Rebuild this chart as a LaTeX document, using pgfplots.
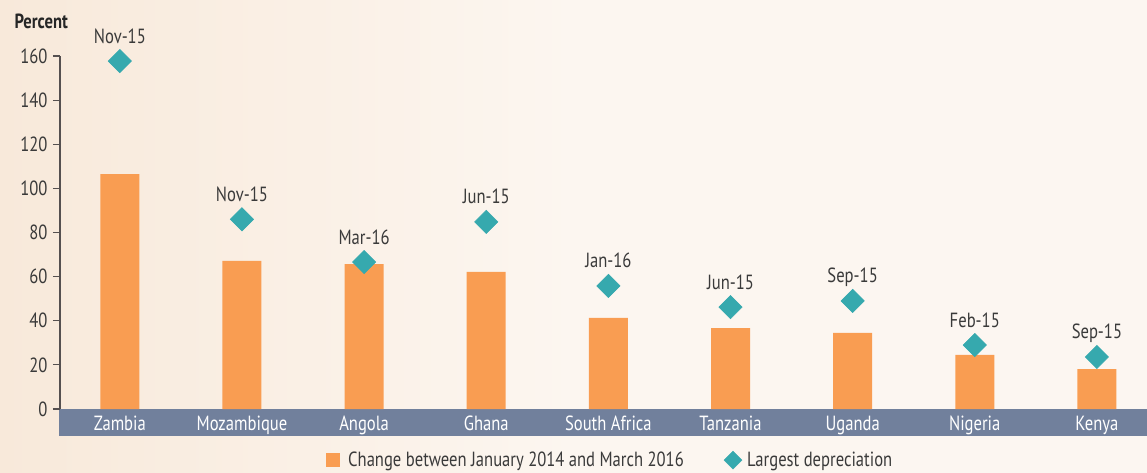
\documentclass[border=0pt]{standalone}
\usepackage{pgfplots}
\pgfplotsset{compat=1.18}
\usepackage{fontspec}
\setmainfont{PT Sans}[FakeStretch=0.81]
\definecolor{barc}{HTML}{F99D52}
\definecolor{tealc}{HTML}{36A9AE}
\definecolor{bandc}{HTML}{71809C}
\definecolor{textc}{HTML}{3A3A3A}
\definecolor{axisc}{HTML}{555050}
\definecolor{bgl}{HTML}{F8E9DA}
\definecolor{bgm}{HTML}{FCF6F0}
\definecolor{bgr}{HTML}{FCF6F1}
\begin{document}
\begin{tikzpicture}[font=\fontsize{20.5}{24}\selectfont]
\shade[left color=bgl, right color=bgr, middle color=bgm] (-60pt,-63pt) rectangle (1087pt,409pt);
\fill[bandc] (-1pt,-27pt) rectangle (1087pt,0pt);
\begin{axis}[
  at={(0pt,0pt)}, anchor=south west,
  scale only axis, width=1087pt, height=353pt,
  xmin=-0.49, xmax=8.41, ymin=0, ymax=160,
  axis y line*=left, axis x line*=bottom,
  x axis line style={draw=none},
  y axis line style={line width=1.6pt, color=axisc},
  xtick={0,...,8},
  xticklabels={Zambia,Mozambique,Angola,Ghana,South Africa,Tanzania,Uganda,Nigeria,Kenya},
  xtick style={draw=none},
  xticklabel style={text=white, anchor=base, yshift=-14pt},
  ytick={0,20,...,160},
  ytick style={line width=1.2pt, color=axisc},
  tick align=outside, major tick length=7pt,
  yticklabel style={text=textc, xshift=-2pt},
  /pgf/number format/assume math mode=true,
  legend style={at={(0.2447,-0.145)}, anchor=west, draw=none, fill=none,
    legend columns=2, text=textc, inner sep=0pt,
    /tikz/every even column/.append style={column sep=38pt},
    /tikz/every odd column/.append style={column sep=0pt}},
  legend cell align=left,
]
\addplot[ybar, fill=barc, draw=none, bar width=39pt, bar shift=0pt,
  legend image code/.code={\fill[barc] (0pt,-7pt) rectangle (14pt,7pt);}]
  coordinates {(0,106.5) (1,67.1) (2,65.7) (3,62.1) (4,41.3) (5,36.7) (6,34.5) (7,24.5) (8,18.1)};
\addlegendentry{\hspace{6pt}Change between January 2014 and March 2016}
\addplot[only marks, color=tealc, mark=square*, mark size=8.2pt,
  mark options={rotate=45, fill=tealc, draw=tealc, line width=0.6pt},
  nodes near coords, point meta=explicit symbolic,
  nodes near coords style={anchor=base, yshift=18pt, text=textc},
  legend image code/.code={\fill[tealc] (3pt,-9pt) -- (12pt,0pt) -- (3pt,9pt) -- (-6pt,0pt) -- cycle;}]
  table[meta=label] {
x y label
0 157.7 Nov-15
1 86.0 Nov-15
2 66.6 Mar-16
3 84.8 Jun-15
4 55.8 Jan-16
5 46.2 Jun-15
6 49.0 Sep-15
7 29.0 Feb-15
8 23.6 Sep-15
};
\addlegendentry{\hspace{3pt}Largest depreciation}
\end{axis}
\node[anchor=base west, font=\bfseries\fontsize{20.5}{24}\selectfont, text=black!85] at (-49pt,380pt) {Percent};
\pgfresetboundingbox
\path (-60pt,-63pt) rectangle (1087pt,409pt);
\end{tikzpicture}
\end{document}
